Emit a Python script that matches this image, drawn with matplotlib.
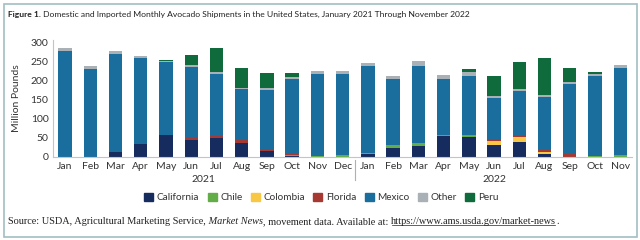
import matplotlib.pyplot as plt
import matplotlib.transforms as mtransforms
from matplotlib.patches import Rectangle, Patch
import numpy as np

months = ['Jan', 'Feb', 'Mar', 'Apr', 'May', 'Jun', 'Jul', 'Aug', 'Sep', 'Oct', 'Nov', 'Dec',
          'Jan', 'Feb', 'Mar', 'Apr', 'May', 'Jun', 'Jul', 'Aug', 'Sep', 'Oct', 'Nov']
years = ['2021', '2022']

# million pounds, Jan 2021 .. Nov 2022
california = [0, 0, 12, 34, 58, 45, 48, 37, 16, 1, 0, 0,
              7, 24, 29, 54, 52, 31, 38, 6, 0, 0, 0]
chile = [0, 0, 0, 0, 0, 0, 0, 0, 0, 3, 3, 4,
         2, 7, 8, 3, 5, 0, 0, 0, 0, 2, 5]
colombia = [0, 0, 0, 0, 0, 0, 2, 0, 0, 0, 0, 0,
            0, 0, 0, 0, 0, 10, 14, 7, 0, 0, 0]
florida = [0, 0, 0, 0, 0, 4, 5, 6, 5, 3, 0, 0,
           0, 0, 0, 0, 0, 5, 6, 4, 6, 3, 0]
mexico = [277, 229, 257, 225, 190, 187, 163, 134, 154, 197, 214, 212,
          228, 174, 201, 148, 155, 107, 115, 140, 186, 206, 229]
other = [8, 9, 9, 6, 4, 5, 5, 4, 4, 6, 7, 8,
         8, 8, 13, 10, 9, 5, 4, 4, 4, 5, 6]
peru = [0, 0, 0, 0, 3, 27, 61, 51, 41, 10, 0, 0,
        0, 0, 0, 0, 8, 55, 72, 97, 38, 5, 0]

series = [('California', california, '#162b5e'),
          ('Chile', chile, '#62ad48'),
          ('Colombia', colombia, '#f8c744'),
          ('Florida', florida, '#a63a33'),
          ('Mexico', mexico, '#1a6e9e'),
          ('Other', other, '#a9b1b6'),
          ('Peru', peru, '#0f6b3b')]

plt.rcParams['font.family'] = ['Lato', 'DejaVu Sans']

fig = plt.figure(figsize=(6.4, 2.4), dpi=100)
ax = fig.add_axes([0.0823, 0.347, 0.905, 0.486])

x = np.arange(len(months))
bottom = np.zeros(len(months))
for name, vals, col in series:
    ax.bar(x, vals, 0.53, bottom=bottom, color=col, linewidth=0)
    bottom += np.array(vals)

ax.set_xlim(-0.49, 22.46)
ax.set_ylim(0, 306)
ax.set_yticks([0, 50, 100, 150, 200, 250, 300])
ax.set_xticks(x)
ax.set_xticklabels(months)
ax.tick_params(axis='both', length=0, labelsize=7.5, colors='#333333')
ax.tick_params(axis='x', pad=4)
ax.tick_params(axis='y', pad=3)
for s in ['top', 'right']:
    ax.spines[s].set_visible(False)
for s in ['left', 'bottom']:
    ax.spines[s].set_color('#c4c4c4')
    ax.spines[s].set_linewidth(0.8)
ax.set_ylabel('Million Pounds', fontsize=7.5, color='#333333', labelpad=7)

trans = mtransforms.blended_transform_factory(ax.transData, ax.transAxes)
ax.text(5.5, -0.195, years[0], transform=trans, ha='center', va='center', fontsize=7.5, color='#333333')
ax.text(17, -0.195, years[1], transform=trans, ha='center', va='center', fontsize=7.5, color='#333333')
ax.plot([11.5, 11.5], [-0.03, -0.2], transform=trans, color='#b0b0b0', lw=0.8, clip_on=False)

handles = [Patch(color=col, label=name) for name, vals, col in series]
fig.legend(handles=handles, loc='center', bbox_to_anchor=(0.502, 1 - 197.5 / 240), ncol=7,
           frameon=False, fontsize=7.2, handlelength=0.9, handleheight=0.9,
           handletextpad=0.35, columnspacing=0.85, labelcolor='#333333')

# outer frame
fig.add_artist(Rectangle((3.5 / 640, 3.5 / 240), 633 / 640, 233 / 240, transform=fig.transFigure,
                         fill=False, edgecolor='#a3bfc2', lw=1.2))

# title with bold lead
t1 = fig.text(8 / 640, 1 - 14 / 240, 'Figure 1.', fontsize=6.1, fontweight='bold', va='center', color='#222222')
ax.annotate(' Domestic and Imported Monthly Avocado Shipments in the United States, January 2021 Through November 2022',
            xy=(1, 0), xycoords=t1, va='bottom', ha='left', fontsize=6.1, color='#222222', annotation_clip=False)

# source line in serif, with italic and underlined parts
serif = ['Liberation Serif', 'DejaVu Serif']
fs = 7.4
s1 = fig.text(8 / 640, 1 - 221.5 / 240, 'Source: USDA, Agricultural Marketing Service,', family=serif,
              fontsize=fs, va='center', color='#222222')
s2 = ax.annotate(' Market News', xy=(1, 0), xycoords=s1, va='bottom', ha='left', family=serif,
                 style='italic', fontsize=fs, color='#222222', annotation_clip=False)
s3 = ax.annotate(', movement data. Available at: ', xy=(1, 0), xycoords=s2, va='bottom', ha='left',
                 family=serif, fontsize=fs, color='#222222', annotation_clip=False)
s4 = ax.annotate('https://www.ams.usda.gov/market-news', xy=(1, 0), xycoords=s3, va='bottom', ha='left',
                 family=serif, fontsize=fs, color='#222222', annotation_clip=False)
ax.annotate('.', xy=(1, 0), xycoords=s4, va='bottom', ha='left', family=serif, fontsize=fs,
            color='#222222', annotation_clip=False)

fig.canvas.draw()
bb = s4.get_window_extent().transformed(fig.transFigure.inverted())
uy = bb.y0 + 0.14 * (bb.y1 - bb.y0)
fig.add_artist(plt.Line2D([bb.x0 + 0.001, bb.x1 - 0.002], [uy, uy], transform=fig.transFigure,
                          color='#222222', lw=0.5))

fig.savefig('out.png', dpi=100)
